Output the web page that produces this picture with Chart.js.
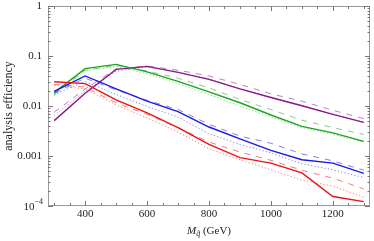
<!DOCTYPE html>
<html>
<head>
<meta charset="utf-8">
<script src="https://cdn.jsdelivr.net/npm/chart.js@4/dist/chart.umd.min.js"></script>
<style>
html, body { margin: 0; padding: 0; background: #fff; }
</style>
</head>
<body>
<canvas id="c" width="374" height="241"></canvas>
<script>
// squark mass points (GeV)
const masses = [300, 400, 500, 600, 700, 800, 900, 1000, 1100, 1200, 1300];

const redSolid = [0.0305, 0.028, 0.0132, 0.0073, 0.0037, 0.0017, 0.00093, 0.00072, 0.00046, 0.000155, 0.000122];
const redDashed = [0.027, 0.024, 0.0115, 0.0068, 0.0037, 0.0019, 0.0012, 0.00082, 0.00052, 0.00036, 0.00022];
const redDotted = [0.026, 0.022, 0.0105, 0.0058, 0.003, 0.0014, 0.00084, 0.00053, 0.00033, 0.00025, 0.00015];

const blueSolid = [0.0195, 0.040, 0.022, 0.0125, 0.0077, 0.0038, 0.0022, 0.0013, 0.00084, 0.00072, 0.00045];
const blueDashed = [0.018, 0.036, 0.021, 0.013, 0.0085, 0.0043, 0.0025, 0.0018, 0.0011, 0.0008, 0.00052];
const blueDotted = [0.017, 0.031, 0.017, 0.0098, 0.006, 0.0028, 0.0017, 0.00115, 0.0007, 0.00053, 0.00037];

const greenSolid = [0.0185, 0.056, 0.068, 0.048, 0.031, 0.0192, 0.0116, 0.0066, 0.0039, 0.0029, 0.00196];
const greenDashed = [0.017, 0.052, 0.065, 0.05, 0.036, 0.023, 0.0135, 0.0085, 0.0052, 0.0037, 0.0027];
const greenDotted = [0.016, 0.05, 0.062, 0.044, 0.028, 0.017, 0.01, 0.006, 0.0037, 0.0027, 0.0019];

const purpleSolid = [0.0051, 0.018, 0.054, 0.062, 0.047, 0.034, 0.022, 0.0148, 0.0101, 0.0068, 0.0047];
const purpleDashed = [0.0075, 0.022, 0.055, 0.063, 0.052, 0.04, 0.027, 0.0175, 0.0125, 0.0082, 0.0056];
const purpleDotted = [0.0065, 0.02, 0.05, 0.06, 0.048, 0.035, 0.022, 0.015, 0.0102, 0.0069, 0.0047];

const xTickLabels = [400, 600, 800, 1000, 1200];
const yTickLabels = ['1', '0.1', '0.01', '0.001'];

const colors = {
    red: [235, 20, 20],
    blue: [25, 25, 235],
    green: [30, 165, 30],
    purple: [135, 25, 140]
};

function pts(values) {
    return values.map((v, i) => ({x: masses[i], y: v}));
}

function rgba(c, a) {
    return `rgba(${c[0]},${c[1]},${c[2]},${a})`;
}

function series(values, c, style) {
    const ds = {
        data: pts(values),
        borderColor: rgba(c, 1),
        borderWidth: 1.4,
        pointRadius: 0,
        tension: 0,
        fill: false
    };
    if (style === 'dashed') {
        ds.borderColor = rgba(c, 0.55);
        ds.borderWidth = 1;
        ds.borderDash = [6, 6];
        ds.order = 2;
    } else if (style === 'dotted') {
        ds.borderColor = rgba(c, 0.55);
        ds.borderWidth = 1;
        ds.borderDash = [1.2, 2.2];
        ds.order = 3;
    } else {
        ds.order = 1;
    }
    return ds;
}

const SERIF = '"Liberation Serif", "DejaVu Serif", serif';

const framePlugin = {
    id: 'frame',
    afterDraw(chart) {
        const {ctx, chartArea: a, scales: {x, y}} = chart;
        ctx.save();

        const line = (x1, y1, x2, y2) => {
            ctx.beginPath();
            ctx.moveTo(x1, y1);
            ctx.lineTo(x2, y2);
            ctx.stroke();
        };

        ctx.strokeStyle = '#9a9a9a';
        ctx.lineWidth = 1;
        ctx.strokeRect(a.left + 0.5, a.top + 0.5, a.right - a.left - 1, a.bottom - a.top - 1);

        ctx.strokeStyle = '#777';
        // x ticks, bottom and top
        for (let m = 300; m <= 1300; m += 50) {
            const px = Math.round(x.getPixelForValue(m)) + 0.5;
            const len = m % 200 === 0 ? 5 : 3;
            line(px, a.bottom, px, a.bottom - len);
            line(px, a.top, px, a.top + len);
        }
        // y ticks, left and right
        for (let e = -4; e <= 0; e++) {
            for (let k = 1; k <= 9; k++) {
                const v = k * Math.pow(10, e);
                if (v > 1) break;
                const py = Math.round(y.getPixelForValue(v)) + 0.5;
                const len = k === 1 ? 5 : 2.5;
                line(a.left, py, a.left + len, py);
                line(a.right, py, a.right - len, py);
            }
        }

        ctx.fillStyle = '#222';
        ctx.font = '11px ' + SERIF;
        // x tick labels
        ctx.textAlign = 'center';
        ctx.textBaseline = 'middle';
        xTickLabels.forEach(m => {
            ctx.fillText(String(m), x.getPixelForValue(m), a.bottom + 8.5);
        });
        // y tick labels
        ctx.textAlign = 'right';
        yTickLabels.forEach(t => {
            ctx.fillText(t, a.left - 6, y.getPixelForValue(parseFloat(t)));
        });
        // 10^-4
        const yb = y.getPixelForValue(1e-4);
        ctx.font = '8px ' + SERIF;
        const supW = ctx.measureText('\u22124').width;
        ctx.textAlign = 'left';
        ctx.fillText('\u22124', a.left - 5 - supW, yb - 4);
        ctx.font = '11px ' + SERIF;
        ctx.textAlign = 'right';
        ctx.fillText('10', a.left - 5 - supW, yb + 1);

        // x axis title: M_q~ (GeV)
        const cx = (a.left + a.right) / 2;
        const ty = 231;
        ctx.textAlign = 'left';
        ctx.font = 'italic 11px ' + SERIF;
        const wM = ctx.measureText('M').width;
        ctx.font = 'italic 8px ' + SERIF;
        const wq = ctx.measureText('q\u0303').width;
        ctx.font = '11px ' + SERIF;
        const wG = ctx.measureText(' (GeV)').width;
        let sx = cx - (wM + wq + wG) / 2;
        ctx.font = 'italic 11px ' + SERIF;
        ctx.fillText('M', sx, ty);
        sx += wM;
        ctx.font = 'italic 8px ' + SERIF;
        ctx.fillText('q\u0303', sx, ty + 3);
        sx += wq;
        ctx.font = '11px ' + SERIF;
        ctx.fillText(' (GeV)', sx, ty);

        // y axis title
        ctx.translate(8.5, (a.top + a.bottom) / 2);
        ctx.rotate(-Math.PI / 2);
        ctx.textAlign = 'center';
        ctx.font = '12px ' + SERIF;
        ctx.fillText('analysis efficiency', 0, 0);

        ctx.restore();
    }
};

new Chart(document.getElementById('c').getContext('2d'), {
    type: 'line',
    data: {
        datasets: [
            series(redSolid, colors.red, 'solid'),
            series(blueSolid, colors.blue, 'solid'),
            series(greenSolid, colors.green, 'solid'),
            series(purpleSolid, colors.purple, 'solid'),
            series(redDashed, colors.red, 'dashed'),
            series(blueDashed, colors.blue, 'dashed'),
            series(greenDashed, colors.green, 'dashed'),
            series(purpleDashed, colors.purple, 'dashed'),
            series(redDotted, colors.red, 'dotted'),
            series(blueDotted, colors.blue, 'dotted'),
            series(greenDotted, colors.green, 'dotted'),
            series(purpleDotted, colors.purple, 'dotted')
        ]
    },
    plugins: [framePlugin],
    options: {
        responsive: false,
        animation: false,
        devicePixelRatio: 1,
        layout: {padding: {top: 6, right: 4, left: 0, bottom: 0}},
        plugins: {legend: {display: false}, tooltip: {enabled: false}},
        scales: {
            x: {
                type: 'linear',
                min: 280,
                max: 1320,
                grid: {display: false},
                border: {display: false},
                ticks: {display: false},
                afterFit(s) { s.height = 35; }
            },
            y: {
                type: 'logarithmic',
                min: 1e-4,
                max: 1,
                grid: {display: false},
                border: {display: false},
                ticks: {display: false},
                afterFit(s) { s.width = 48; }
            }
        }
    }
});
</script>
</body>
</html>
